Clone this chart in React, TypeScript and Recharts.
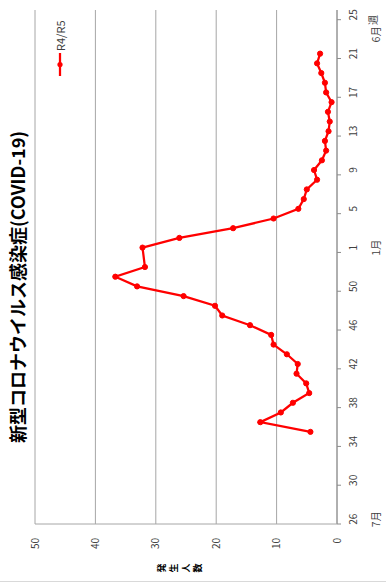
import React from 'react';
import { LineChart, Line, XAxis, YAxis, CartesianGrid, Legend } from 'recharts';

// week numbers along the category axis (R4 week 26 .. R5 week 25)
const WEEKS = [
  '26', '27', '28', '29', '30', '31', '32', '33', '34', '35', '36', '37', '38', '39',
  '40', '41', '42', '43', '44', '45', '46', '47', '48', '49', '50', '51', '52', '53',
  '1', '2', '3', '4', '5', '6', '7', '8', '9', '10', '11', '12', '13', '14', '15',
  '16', '17', '18', '19', '20', '21', '22', '23', '24', '25',
];

// 発生人数 per week, null where nothing was reported
const R4R5 = [
  null, null, null, null, null, null, null, null, null,
  4.4, 12.7, 9.3, 7.3, 4.6, 5.1, 6.7, 6.5, 8.3, 10.5, 10.9, 14.4, 19.0, 20.2, 25.4,
  33.1, 36.7, 31.8, null,
  32.2, 26.1, 17.2, 10.5, 6.4, 5.5, 5.0, 3.3, 3.8, 2.5, 1.8, 2.0, 1.4, 1.2, 1.5,
  0.9, 1.8, 2.0, 2.6, 3.3, 2.8, null, null, null, null,
];

const MONTHS = [
  { week: '26', label: '7月' },
  { week: '1', label: '1月' },
  { week: '23', label: '6月' },
];

const Y_TICKS = [0, 10, 20, 30, 40, 50];

const data = WEEKS.map((w, i) => ({ idx: i, week: w, v: R4R5[i] }));

const CHART_W = 585;
const CHART_H = 386;
const MARGIN = { top: 35, right: 10, bottom: 0, left: 0 };
const Y_W = 61;
const HALF_BAND = (CHART_W - MARGIN.left - MARGIN.right - Y_W) / WEEKS.length / 2;
const FONT = '"Noto Sans CJK JP", "Noto Sans", sans-serif';

const monthIdx = MONTHS.map((m) => WEEKS.indexOf(m.week));
const X_TICKS = WEEKS.map((_, i) => i).filter((i) => i % 4 === 0 || monthIdx.includes(i));

const WeekTick = (props: any) => {
  const { x, y, payload } = props;
  const i = payload.value;
  const m = MONTHS.find((mm) => WEEKS.indexOf(mm.week) === i);
  return (
    <g>
      {i % 4 === 0 && (
        <line x1={x - HALF_BAND} x2={x - HALF_BAND} y1={y - 13} y2={y - 9} stroke="#8c8c8c" />
      )}
      {i % 4 === 0 && (
        <text x={x} y={y} dy="0.71em" textAnchor="middle" fontSize={10} fill="#404040" fontFamily={FONT}>
          {WEEKS[i]}
        </text>
      )}
      {m && (
        <text x={x} y={y + 30} textAnchor="middle" fontSize={10.5} fill="#404040" fontFamily={FONT}>
          {m.label}
        </text>
      )}
    </g>
  );
};

const LegendBox = () => (
  <div style={{ display: 'flex', alignItems: 'center', height: 12, fontFamily: FONT }}>
    <svg width={23} height={12}>
      <line x1={0} x2={23} y1={6} y2={6} stroke="#ff0000" strokeWidth={2.25} />
      <circle cx={11.5} cy={6} r={2.6} fill="#ff0000" />
    </svg>
    <span style={{ fontSize: 11, color: '#404040', marginLeft: 2 }}>R4/R5</span>
  </div>
);

export default function App() {
  return (
    <div style={{ position: 'absolute', left: 0, top: 0, width: 386, height: 585, overflow: 'hidden', background: '#fff' }}>
      <div
        style={{
          position: 'absolute',
          left: 0,
          top: 0,
          width: CHART_W,
          height: CHART_H,
          transform: `translate(0px, ${CHART_W}px) rotate(-90deg)`,
          transformOrigin: '0 0',
          fontFamily: FONT,
        }}
      >
        <div style={{ position: 'absolute', left: 3, top: 0, width: 1, height: CHART_H, background: '#d9d9d9' }} />
        <LineChart width={CHART_W} height={CHART_H} data={data} margin={MARGIN}>
          <CartesianGrid vertical={false} stroke="#a6a6a6" />
          <XAxis
            type="number"
            dataKey="idx"
            domain={[-0.5, WEEKS.length - 0.5]}
            ticks={X_TICKS}
            interval={0}
            tick={<WeekTick />}
            tickLine={false}
            tickSize={4}
            tickMargin={9}
            axisLine={{ stroke: '#8c8c8c' }}
            height={49}
          />
          <YAxis
            type="number"
            domain={[0, 50]}
            ticks={Y_TICKS}
            interval={0}
            tickLine={false}
            tickSize={6}
            tickMargin={8}
            axisLine={{ stroke: '#a6a6a6' }}
            tick={{ fontSize: 10, fill: '#404040', fontFamily: FONT }}
            width={Y_W}
          />
          <Legend
            layout="horizontal"
            verticalAlign="middle"
            align="center"
            wrapperStyle={{ position: 'absolute', left: 509, top: 54, width: 'auto' }}
            content={() => <LegendBox />}
          />
          <Line
            type="linear"
            dataKey="v"
            name="R4/R5"
            stroke="#ff0000"
            strokeWidth={2.25}
            dot={{ r: 2.6, fill: '#ff0000', stroke: '#ff0000', strokeWidth: 1 }}
            activeDot={false}
            connectNulls
            isAnimationActive={false}
          />
        </LineChart>
        <div
          style={{
            position: 'absolute',
            left: 298,
            top: 16.5,
            transform: 'translate(-50%, -50%)',
            fontSize: 18,
            fontWeight: 'bold',
            whiteSpace: 'nowrap',
            color: '#000',
            lineHeight: '22px',
          }}
        >
          新型コロナウイルス感染症(COVID-19)
        </div>
        <div
          style={{
            position: 'absolute',
            left: 12.5,
            top: 157,
            writingMode: 'vertical-rl',
            fontSize: 9,
            fontWeight: 'bold',
            letterSpacing: 3,
            lineHeight: '9px',
            color: '#000',
          }}
        >
          発生人数
        </div>
        <div style={{ position: 'absolute', left: 560, top: 367, fontSize: 10, color: '#404040', lineHeight: '12px' }}>
          週
        </div>
      </div>
    </div>
  );
}
